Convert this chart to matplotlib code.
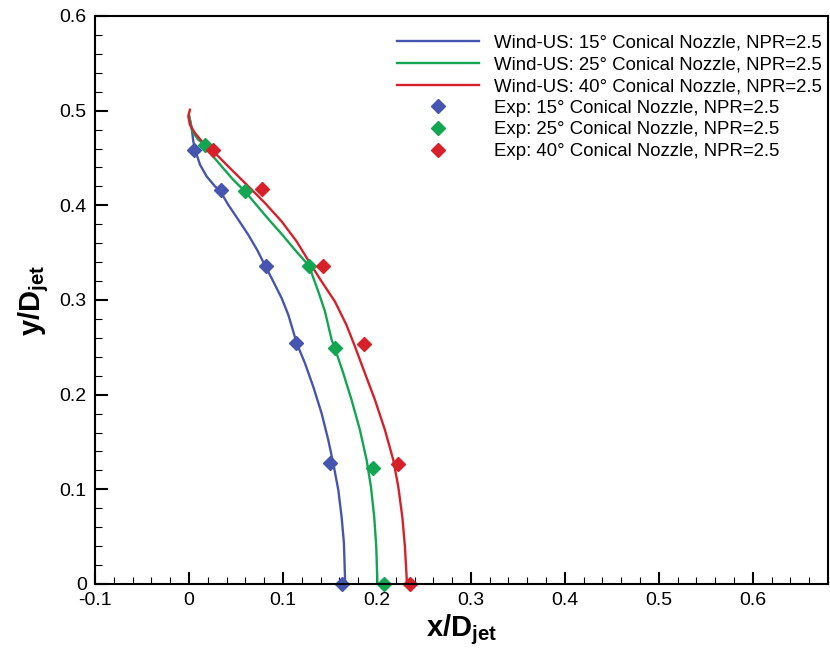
import matplotlib
matplotlib.use("Agg")
import matplotlib.pyplot as plt
from matplotlib.ticker import MultipleLocator, FixedLocator

plt.rcParams['font.family'] = ['Liberation Sans', 'DejaVu Sans']
plt.rcParams['mathtext.fontset'] = 'custom'
plt.rcParams['mathtext.rm'] = 'Liberation Sans'
plt.rcParams['mathtext.bf'] = 'Liberation Sans:bold'
plt.rcParams['mathtext.it'] = 'Liberation Sans:italic'

# Wind-US computed boundaries
cfd15_x = [0.000, 0.0029, 0.0046, 0.0071, 0.0117, 0.0188, 0.0277, 0.0330, 0.0418, 0.0525,
           0.0631, 0.0725, 0.0809, 0.0897, 0.0986, 0.1057, 0.1110, 0.1146, 0.1234, 0.1322,
           0.1411, 0.1482, 0.1535, 0.1589, 0.1624, 0.1649, 0.1660, 0.1662]
cfd15_y = [0.495, 0.4817, 0.4676, 0.4570, 0.4430, 0.4306, 0.4200, 0.4154, 0.4006, 0.3848,
           0.3689, 0.3530, 0.3365, 0.3196, 0.3020, 0.2844, 0.2667, 0.2544, 0.2333, 0.2086,
           0.1804, 0.1522, 0.1276, 0.0994, 0.0711, 0.0430, 0.0077, 0.0]

cfd25_x = [0.000, 0.0035, 0.0099, 0.0170, 0.0241, 0.0348, 0.0471, 0.0596, 0.0716, 0.0851,
           0.0993, 0.1142, 0.1277, 0.1376, 0.1447, 0.1518, 0.1546, 0.1642, 0.1730, 0.1819,
           0.1890, 0.1936, 0.1971, 0.1993, 0.2003, 0.2005]
cfd25_y = [0.495, 0.4781, 0.4693, 0.4640, 0.4535, 0.4411, 0.4270, 0.4147, 0.4006, 0.3848,
           0.3689, 0.3513, 0.3362, 0.3090, 0.2880, 0.2580, 0.2509, 0.2227, 0.1945, 0.1628,
           0.1311, 0.1029, 0.0711, 0.0394, 0.0077, 0.0]

cfd40_x = [0.001, -0.0007, 0.001, 0.0064, 0.0152, 0.0241, 0.0418, 0.0614, 0.0809, 0.0986,
           0.1146, 0.1287, 0.1411, 0.1553, 0.1675, 0.1766, 0.1872, 0.1979, 0.2085, 0.2174,
           0.2227, 0.2270, 0.2298, 0.2316, 0.2318]
cfd40_y = [0.501, 0.494, 0.485, 0.4764, 0.4658, 0.4588, 0.4411, 0.4218, 0.4024, 0.3830,
           0.3618, 0.3390, 0.3196, 0.2984, 0.2738, 0.2509, 0.2227, 0.1945, 0.1628, 0.1311,
           0.1029, 0.0711, 0.0394, 0.0077, 0.0]

# Experimental data
exp15_x = [0.005, 0.034, 0.082, 0.114, 0.150, 0.163]
exp15_y = [0.458, 0.416, 0.336, 0.255, 0.128, 0.0]
exp25_x = [0.017, 0.060, 0.128, 0.155, 0.196, 0.208]
exp25_y = [0.464, 0.415, 0.336, 0.249, 0.123, 0.0]
exp40_x = [0.026, 0.078, 0.143, 0.186, 0.222, 0.235]
exp40_y = [0.458, 0.417, 0.336, 0.254, 0.127, 0.0]

labels_cfd = ['Wind-US: 15\u00b0 Conical Nozzle, NPR=2.5',
              'Wind-US: 25\u00b0 Conical Nozzle, NPR=2.5',
              'Wind-US: 40\u00b0 Conical Nozzle, NPR=2.5']
labels_exp = ['Exp: 15\u00b0 Conical Nozzle, NPR=2.5',
              'Exp: 25\u00b0 Conical Nozzle, NPR=2.5',
              'Exp: 40\u00b0 Conical Nozzle, NPR=2.5']

xticks = [-0.1, 0, 0.1, 0.2, 0.3, 0.4, 0.5, 0.6]
xticklabels = ['-0.1', '0', '0.1', '0.2', '0.3', '0.4', '0.5', '0.6']
yticks = [0, 0.1, 0.2, 0.3, 0.4, 0.5, 0.6]
yticklabels = ['0', '0.1', '0.2', '0.3', '0.4', '0.5', '0.6']

blue = '#4656b0'
green = '#12a552'
red = '#d6202a'

fig = plt.figure(figsize=(8.3, 6.54), dpi=100)
ax = fig.add_axes([95/830, 70/654, 733/830, 568/654])

ax.plot(cfd15_x, cfd15_y, color=blue, lw=1.7, label=labels_cfd[0], solid_joinstyle='round')
ax.plot(cfd25_x, cfd25_y, color=green, lw=1.7, label=labels_cfd[1], solid_joinstyle='round')
ax.plot(cfd40_x, cfd40_y, color=red, lw=1.7, label=labels_cfd[2], solid_joinstyle='round')
ax.plot(exp15_x, exp15_y, 'D', color=blue, ms=7.5, ls='none', label=labels_exp[0], clip_on=False)
ax.plot(exp25_x, exp25_y, 'D', color=green, ms=7.5, ls='none', label=labels_exp[1], clip_on=False)
ax.plot(exp40_x, exp40_y, 'D', color=red, ms=7.5, ls='none', label=labels_exp[2], clip_on=False)

ax.set_xlim(-0.1, 0.68)
ax.set_ylim(0, 0.6)
ax.xaxis.set_major_locator(FixedLocator(xticks))
ax.set_xticklabels(xticklabels)
ax.yaxis.set_major_locator(FixedLocator(yticks))
ax.set_yticklabels(yticklabels)
ax.xaxis.set_minor_locator(MultipleLocator(0.02))
ax.yaxis.set_minor_locator(MultipleLocator(0.02))
ax.tick_params(which='both', direction='in', top=False, right=False, labelsize=14)
ax.tick_params(which='major', length=9, width=1.5, pad=6)
ax.tick_params(which='minor', length=5, width=0.8)
for s in ax.spines.values():
    s.set_linewidth(1.5)

ax.set_xlabel(r'$\mathbf{x/D}_{\mathbf{jet}}$', fontsize=21, labelpad=2)
ax.set_ylabel(r'$\mathbf{y/D}_{\mathbf{jet}}$', fontsize=21, labelpad=6)

ax.legend(loc='upper left', bbox_to_anchor=(0.412, 0.967), frameon=False, fontsize=13.4,
          handlelength=4.4, handletextpad=0.82, labelspacing=0.25, numpoints=1,
          borderpad=0, borderaxespad=0)

fig.savefig('out.png', dpi=100)
